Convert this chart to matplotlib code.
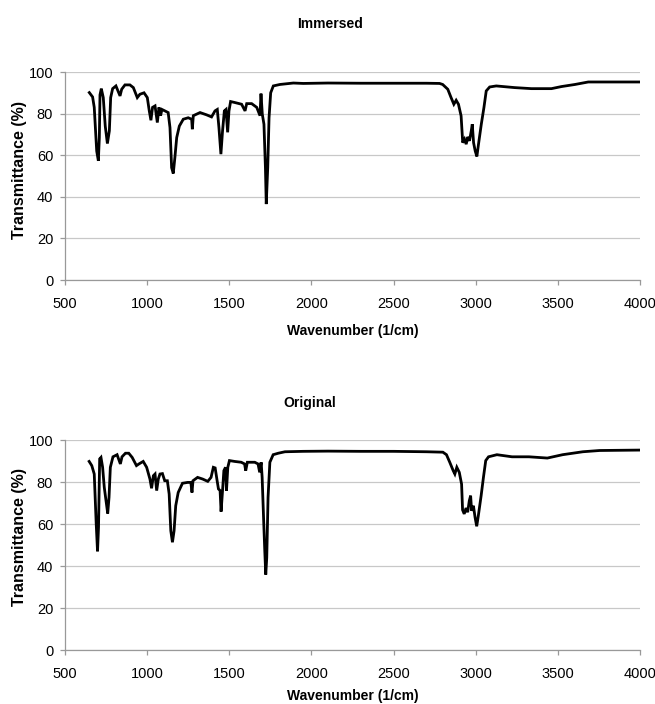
import matplotlib
matplotlib.use("Agg")
import matplotlib.pyplot as plt

plt.rcParams['font.family'] = ['Liberation Sans', 'DejaVu Sans']

titles = ["Immersed", "Original"]
x_label = "Wavenumber (1/cm)"
y_label = "Transmittance (%)"
x_ticks = [500, 1000, 1500, 2000, 2500, 3000, 3500, 4000]
y_ticks = [0, 20, 40, 60, 80, 100]

immersed_wn = [648, 668, 678, 693, 703, 709, 713, 721, 733, 745, 758, 770, 778, 790, 810, 835, 845,
               865, 895, 916, 940, 956, 981, 1001, 1013, 1023, 1033, 1048, 1062, 1072, 1082, 1090,
               1108, 1128, 1139, 1149, 1159, 1169, 1180, 1196, 1220, 1250, 1271, 1275, 1281, 1322,
               1362, 1392, 1413, 1427, 1437, 1449, 1459, 1470, 1480, 1490, 1498, 1508, 1535, 1575,
               1596, 1606, 1636, 1667, 1687, 1693, 1701, 1711, 1720, 1725, 1734, 1742, 1752, 1768,
               1808, 1890, 1950, 2100, 2300, 2500, 2700, 2780, 2799, 2830, 2850, 2867, 2881, 2895,
               2911, 2921, 2932, 2942, 2952, 2962, 2973, 2979, 2987, 2997, 3007, 3017, 3034, 3050,
               3064, 3085, 3125, 3237, 3339, 3461, 3522, 3604, 3685, 3848, 4000]
immersed_t = [90.1, 88.0, 83.0, 62.0, 57.3, 68.5, 89.0, 92.0, 87.7, 74.0, 65.6, 71.7, 87.7, 92.0, 93.3,
              88.5, 91.7, 93.8, 93.8, 92.5, 87.7, 89.3, 90.0, 87.7, 81.3, 76.8, 83.0, 83.7, 75.7, 83.0,
              79.0, 82.0, 81.3, 80.5, 73.3, 54.0, 51.2, 59.0, 68.5, 74.0, 77.3, 78.0, 77.3, 72.5, 79.0,
              80.5, 79.4, 78.4, 81.3, 82.0, 73.3, 60.5, 71.7, 81.3, 82.0, 71.0, 81.3, 85.8, 85.3, 84.5,
              81.3, 84.8, 84.8, 83.0, 79.0, 89.6, 79.7, 74.9, 54.0, 36.5, 54.0, 78.0, 90.0, 93.3,
              94.0, 94.7, 94.5, 94.7, 94.6, 94.6, 94.6, 94.5, 94.0, 91.7, 87.7, 84.5, 86.4, 84.5,
              78.9, 66.0, 67.7, 65.3, 68.8, 66.9, 71.7, 74.9, 66.0, 62.0, 59.4, 65.3, 74.9, 82.9,
              90.9, 92.8, 93.3, 92.5, 92.0, 92.0, 93.0, 94.0, 95.2, 95.2, 95.2]

original_wn = [647, 663, 678, 690, 698, 704, 711, 719, 729, 739, 751, 760, 768, 776, 792, 817, 837, 847,
               868, 888, 909, 935, 950, 976, 997, 1017, 1027, 1038, 1048, 1058, 1068, 1078, 1093, 1107,
               1123, 1134, 1144, 1154, 1164, 1174, 1189, 1215, 1246, 1266, 1273, 1279, 1307, 1338, 1369,
               1389, 1403, 1414, 1426, 1434, 1444, 1450, 1459, 1467, 1477, 1483, 1491, 1501, 1532, 1573,
               1593, 1600, 1610, 1655, 1675, 1685, 1694, 1700, 1710, 1716, 1722, 1728, 1736, 1747, 1767,
               1798, 1839, 1950, 2100, 2300, 2500, 2700, 2800, 2822, 2842, 2863, 2873, 2885, 2900, 2914,
               2920, 2930, 2941, 2951, 2961, 2969, 2975, 2986, 2996, 3006, 3016, 3033, 3047, 3061, 3078,
               3129, 3221, 3324, 3436, 3529, 3652, 3754, 4000]
original_t = [89.8, 87.8, 83.8, 60.0, 47.0, 58.4, 91.0, 91.7, 87.0, 77.5, 70.3, 65.0, 72.7, 87.0, 92.0,
              93.0, 88.6, 92.0, 93.7, 93.7, 91.7, 87.8, 88.6, 89.8, 87.0, 81.4, 77.0, 83.0, 83.8, 75.9,
              81.4, 83.8, 84.0, 80.6, 80.6, 74.3, 56.8, 51.3, 56.8, 68.7, 75.0, 79.4, 79.8, 79.8, 75.0,
              80.6, 82.2, 81.4, 80.3, 82.2, 87.0, 86.7, 80.6, 76.7, 75.9, 65.9, 75.9, 85.4, 87.0, 75.9,
              87.0, 90.2, 89.8, 89.4, 88.6, 85.4, 89.4, 89.4, 88.6, 84.6, 89.4, 82.2, 60.0, 47.3, 35.9,
              44.0, 72.7, 89.4, 93.0, 93.7, 94.4, 94.6, 94.7, 94.6, 94.6, 94.4, 94.2, 93.0, 89.4, 85.4,
              83.8, 87.0, 84.6, 79.0, 66.7, 64.8, 67.6, 65.6, 71.1, 73.5, 66.3, 68.7, 63.2, 58.9, 64.0,
              73.5, 82.2, 90.2, 92.0, 93.0, 92.0, 92.0, 91.4, 93.0, 94.4, 95.0, 95.2]

fig = plt.figure(figsize=(6.55, 7.04), dpi=100)
W, H = 655, 704
boxes = [(65, 72, 640, 280), (65, 440, 640, 650)]
series = [(immersed_wn, immersed_t), (original_wn, original_t)]
title_pos = [(330, 28), (310, 407)]
xlabel_y = [-0.212, -0.186]
ylabel_y = [0.53, 0.54]

for i, ((l, t, r, b), (wn, tr), title) in enumerate(zip(boxes, series, titles)):
    ax = fig.add_axes([l / W, 1 - b / H, (r - l) / W, (b - t) / H])
    ax.plot(wn, tr, color='black', lw=2.0, solid_joinstyle='miter')
    ax.set_xlim(500, 4000)
    ax.set_ylim(0, 100)
    ax.set_xticks(x_ticks)
    ax.set_yticks(y_ticks)
    ax.grid(axis='y', color='#c8c8c8', lw=0.9)
    ax.set_axisbelow(True)
    for s in ['top', 'right']:
        ax.spines[s].set_visible(False)
    for s in ['left', 'bottom']:
        ax.spines[s].set_color('#999999')
        ax.spines[s].set_linewidth(0.9)
    ax.tick_params(axis='both', colors='#999999', labelcolor='black', labelsize=10.5, length=3.5, width=0.9)
    ax.tick_params(axis='x', pad=9)
    ax.tick_params(axis='y', pad=5)
    ax.set_xlabel(x_label, fontsize=10, fontweight='bold')
    ax.set_ylabel(y_label, fontsize=11.5, fontweight='bold')
    ax.xaxis.set_label_coords(0.5, xlabel_y[i])
    ax.yaxis.set_label_coords(-0.066, ylabel_y[i])
    fig.text(title_pos[i][0] / W, 1 - title_pos[i][1] / H, title, fontsize=10, fontweight='bold',
             ha='center', va='baseline')

fig.savefig('out.png', dpi=100)
